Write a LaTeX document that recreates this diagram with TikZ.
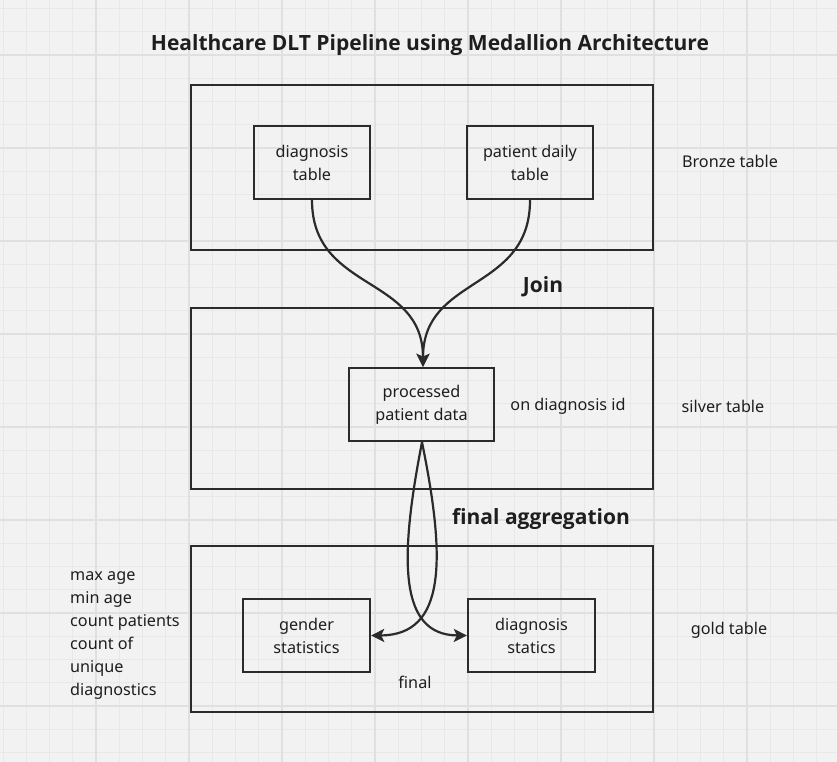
\documentclass[tikz,border=0pt]{standalone}
\usepackage{fontspec}
\setmainfont{Noto Sans}
\newfontfamily\headfont{Open Sans}
\usetikzlibrary{arrows.meta}
\definecolor{bg}{HTML}{F2F2F2}
\definecolor{gminor}{HTML}{E8E8E8}
\definecolor{gmajor}{HTML}{E0E0E0}
\definecolor{ink}{HTML}{2B2B2B}
\definecolor{txt}{HTML}{1E1E1E}
\tikzset{
  layerbox/.style={draw=ink, line width=2.4pt},
  tablebox/.style={draw=ink, line width=2.4pt, minimum height=73pt, align=center, font=\fontsize{16.2}{23}\selectfont, text=txt, inner sep=0pt},
  lbl/.style={font=\fontsize{16.2}{23}\selectfont, text=txt, inner sep=0pt},
  heading/.style={font=\headfont\bfseries\fontsize{21}{25}\selectfont, text=txt, inner sep=0pt},
  flow/.style={draw=ink, line width=2.2pt, -{Stealth[length=13pt,width=13pt,inset=3pt]}},
}
\begin{document}
\begin{tikzpicture}[x=1pt,y=-1pt]
\useasboundingbox (0,0) rectangle (837,762);
\fill[bg] (0,0) rectangle (837,762);
\foreach \i in {0,...,36} {
  \draw[gminor, line width=0.9pt] ({3+23.25*\i},0) -- ({3+23.25*\i},762);
}
\foreach \i in {0,...,33} {
  \draw[gminor, line width=0.9pt] (0,{8.25+23.25*\i}) -- (837,{8.25+23.25*\i});
}
\foreach \i in {0,...,8} {
  \draw[gmajor, line width=1.4pt] ({96+93*\i},0) -- ({96+93*\i},762);
  \draw[gmajor, line width=1.4pt] (0,{55+93*\i}) -- (837,{55+93*\i});
}

% title
\node[heading] (title) at (430,45) {Healthcare DLT Pipeline using Medallion Architecture};

% layer boxes
\draw[layerbox] (191,85) rectangle (653,250);
\draw[layerbox] (191,308) rectangle (653,489);
\draw[layerbox] (191,546) rectangle (653,712);

% tables
\node[tablebox, minimum width=116pt] (diag) at (312,162.5) {diagnosis\\table};
\node[tablebox, minimum width=126pt] (pdaily) at (530,162.5) {patient daily\\table};
\node[tablebox, minimum width=145pt] (proc) at (421.5,404.5) {processed\\patient data};
\node[tablebox, minimum width=127pt] (gender) at (306.5,635.5) {gender\\statistics};
\node[tablebox, minimum width=127pt] (dstat) at (531.5,635.5) {diagnosis\\statics};

% labels
\node[lbl] (bronze) at (730,161) {Bronze table};
\node[lbl] (silver) at (723,406) {silver table};
\node[lbl] (gold) at (729,630) {gold table};
\node[lbl] (ondiag) at (568,406) {on diagnosis id};
\node[lbl] (final) at (415,682) {final};
\node[heading] (join) at (543,287) {Join};
\node[heading] (finagg) at (541,519) {final aggregation};
\node[lbl, align=left, anchor=north west, font=\fontsize{16.2}{23}\selectfont] (stats) at (70,571) {max age\\min age\\count patients\\count of\\unique\\diagnostics};

% connectors
\draw[flow] (diag.south) .. controls (312,292) and (423,275) .. (proc.north -| 423,0);
\draw[flow] (pdaily.south) .. controls (530,292) and (423,275) .. (proc.north -| 423,0);
\draw[flow] (proc.south -| 422,0) .. controls (399,560) and (399,635) .. (dstat.west);
\draw[flow] (proc.south -| 422,0) .. controls (446,560) and (446,635) .. (gender.east);
\end{tikzpicture}
\end{document}
